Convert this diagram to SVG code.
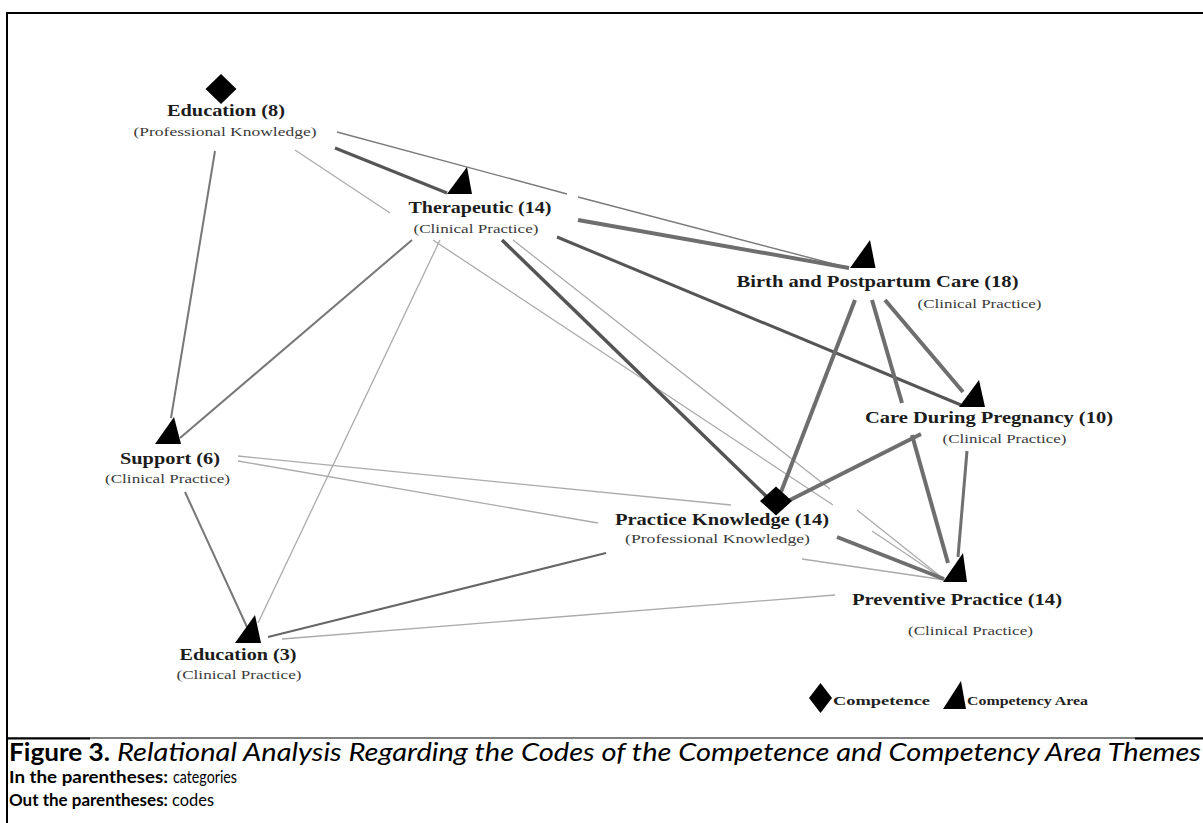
<svg xmlns="http://www.w3.org/2000/svg" width="1203" height="823" viewBox="0 0 1203 823">
<style>
.t{font-family:"Liberation Serif",serif;font-weight:bold;font-size:16px;fill:#1c1c1c;text-anchor:middle}
.s{font-family:"Liberation Serif",serif;font-size:13px;fill:#3a3a3a;text-anchor:middle}
.lg{font-family:"Liberation Serif",serif;font-weight:bold;font-size:11.5px;fill:#222}
.shape{fill:#000}
.cap{font-family:Lato,"Liberation Sans",sans-serif;fill:#000}
path{fill:none;stroke-linecap:butt}
.thin{stroke:#ababab;stroke-width:1.3}
.thinD{stroke:#7a7a7a;stroke-width:1.4}
.med{stroke:#777;stroke-width:2}
.dark3{stroke:#555;stroke-width:3}
.dark35{stroke:#545454;stroke-width:3.5}
.thick{stroke:#6e6e6e;stroke-width:4}
.frame{stroke:#000;fill:none}
</style>
<rect width="1203" height="823" fill="#fff"/>
<!-- frame -->
<line class="frame" x1="6" y1="13" x2="1203" y2="13" stroke-width="2"/>
<line class="frame" x1="7" y1="12" x2="7" y2="823" stroke-width="2"/>
<line class="frame" x1="6" y1="738" x2="1203" y2="738" stroke-width="1"/>
<line class="frame" x1="6" y1="738.5" x2="90" y2="738.5" stroke-width="2"/>
<line class="frame" x1="1135" y1="738.5" x2="1203" y2="738.5" stroke-width="2"/>

<g id="connectors">
<path id="e-edu8-support" class="med" d="M215,151 L171,418"/>
<path id="e-edu8-ther" class="dark3" d="M335,148 L447,193"/>
<path id="e-edu8-birth" class="thinD" d="M337,132 L567,194 M578,197 L849,268"/>
<path id="e-edu8-prev" class="thin" d="M295,150 L390,213 M433,240 L833,505 M872,531 L945,580"/>
<path id="e-ther-birth" class="thick" d="M578,220 L849,268"/>
<path id="e-ther-cdp" class="dark3" d="M557,237 L961,405"/>
<path id="e-ther-support" class="med" d="M412,240 L180,438"/>
<path id="e-ther-edu3" class="thin" d="M440,240 L258,623"/>
<path id="e-ther-pk" class="dark35" d="M502,240 L770,500"/>
<path id="e-ther-prev" class="thin" d="M513,240 L830,489 M857,510 L945,580"/>
<path id="e-support-pk" class="thin" d="M238,456 L731,505"/>
<path id="e-support-prev" class="thin" d="M238,461 L598,523 M802,559 L945,580"/>
<path id="e-support-edu3" class="med" d="M185,492 L247,627"/>
<path id="e-birth-pk" class="thick" d="M855,300 L781,492"/>
<path id="e-birth-prev" class="thick" d="M872,300 L902,403 M912,435 L948,563"/>
<path id="e-birth-cdp" class="thick" d="M885,300 L963,392"/>
<path id="e-cdp-pk" class="thick" d="M921,434 L788,501"/>
<path id="e-cdp-prev" class="dark3" style="stroke:#707070" d="M967,451 L958,557"/>
<path id="e-pk-prev" class="thick" d="M837,537 L944,579"/>
<path id="e-pk-edu3" class="med" style="stroke:#666" d="M606,553 L268,637"/>
<path id="e-edu3-prev" class="thin" d="M282,639 L835,595"/>
</g>

<g id="node-education8">
<polygon class="shape" points="221,74 236.5,89 221,104 205.5,89"/>
<text class="t" x="226" y="116" textLength="118" lengthAdjust="spacingAndGlyphs">Education (8)</text>
<text class="s" x="225" y="136" textLength="183" lengthAdjust="spacingAndGlyphs">(Professional Knowledge)</text>
</g>

<g id="node-therapeutic">
<polygon class="shape" points="467,167 472,194 447,194"/>
<text class="t" x="480" y="213" textLength="143" lengthAdjust="spacingAndGlyphs">Therapeutic (14)</text>
<text class="s" x="476" y="233" textLength="125" lengthAdjust="spacingAndGlyphs">(Clinical Practice)</text>
</g>

<g id="node-birth">
<polygon class="shape" points="870,240 875.5,268 850,268"/>
<text class="t" x="877.5" y="287" textLength="282" lengthAdjust="spacingAndGlyphs">Birth and Postpartum Care (18)</text>
<text class="s" x="979.5" y="308" textLength="124" lengthAdjust="spacingAndGlyphs">(Clinical Practice)</text>
</g>

<g id="node-cdp">
<polygon class="shape" points="979,380 985,407 959,407"/>
<text class="t" x="989" y="423" textLength="248" lengthAdjust="spacingAndGlyphs">Care During Pregnancy (10)</text>
<text class="s" x="1004.5" y="443" textLength="124" lengthAdjust="spacingAndGlyphs">(Clinical Practice)</text>
</g>

<g id="node-support">
<polygon class="shape" points="174,417 181,444 155,444"/>
<text class="t" x="170" y="464" textLength="100" lengthAdjust="spacingAndGlyphs">Support (6)</text>
<text class="s" x="167.5" y="483" textLength="125" lengthAdjust="spacingAndGlyphs">(Clinical Practice)</text>
</g>

<g id="node-practice-knowledge">
<polygon class="shape" points="776,486.5 792,501 776,515.5 760,501"/>
<text class="t" x="722" y="525" textLength="214" lengthAdjust="spacingAndGlyphs">Practice Knowledge (14)</text>
<text class="s" x="717.5" y="543" textLength="185" lengthAdjust="spacingAndGlyphs">(Professional Knowledge)</text>
</g>

<g id="node-preventive">
<polygon class="shape" points="963,553 967,582 943,582"/>
<text class="t" x="957" y="605" textLength="210" lengthAdjust="spacingAndGlyphs">Preventive Practice (14)</text>
<text class="s" x="970.5" y="635" textLength="125" lengthAdjust="spacingAndGlyphs">(Clinical Practice)</text>
</g>

<g id="node-education3">
<polygon class="shape" points="255,615 261,643 235,643"/>
<text class="t" x="238" y="660" textLength="117" lengthAdjust="spacingAndGlyphs">Education (3)</text>
<text class="s" x="239" y="679" textLength="125" lengthAdjust="spacingAndGlyphs">(Clinical Practice)</text>
</g>

<g id="legend">
<polygon class="shape" points="820.5,683 832,698 820.5,713 809,698"/>
<text class="lg" x="833" y="705" textLength="97" lengthAdjust="spacingAndGlyphs">Competence</text>
<polygon class="shape" points="961,681 966,709 943,709"/>
<text class="lg" x="967" y="705" textLength="121" lengthAdjust="spacingAndGlyphs">Competency Area</text>
</g>

<g id="caption">
<text class="cap" x="9" y="761" font-size="25" font-weight="bold" textLength="101" lengthAdjust="spacingAndGlyphs">Figure 3.</text>
<text class="cap" x="117" y="761" font-size="25" font-style="italic" textLength="1084" lengthAdjust="spacingAndGlyphs">Relational Analysis Regarding the Codes of the Competence and Competency Area Themes</text>
<text class="cap" x="9" y="783" font-size="17" font-weight="bold" textLength="159" lengthAdjust="spacingAndGlyphs">In the parentheses:</text>
<text class="cap" x="173" y="783" font-size="17" textLength="64" lengthAdjust="spacingAndGlyphs">categories</text>
<text class="cap" x="9" y="806" font-size="17" font-weight="bold" textLength="159" lengthAdjust="spacingAndGlyphs">Out the parentheses:</text>
<text class="cap" x="172" y="806" font-size="17" textLength="42" lengthAdjust="spacingAndGlyphs">codes</text>
</g>
</svg>
